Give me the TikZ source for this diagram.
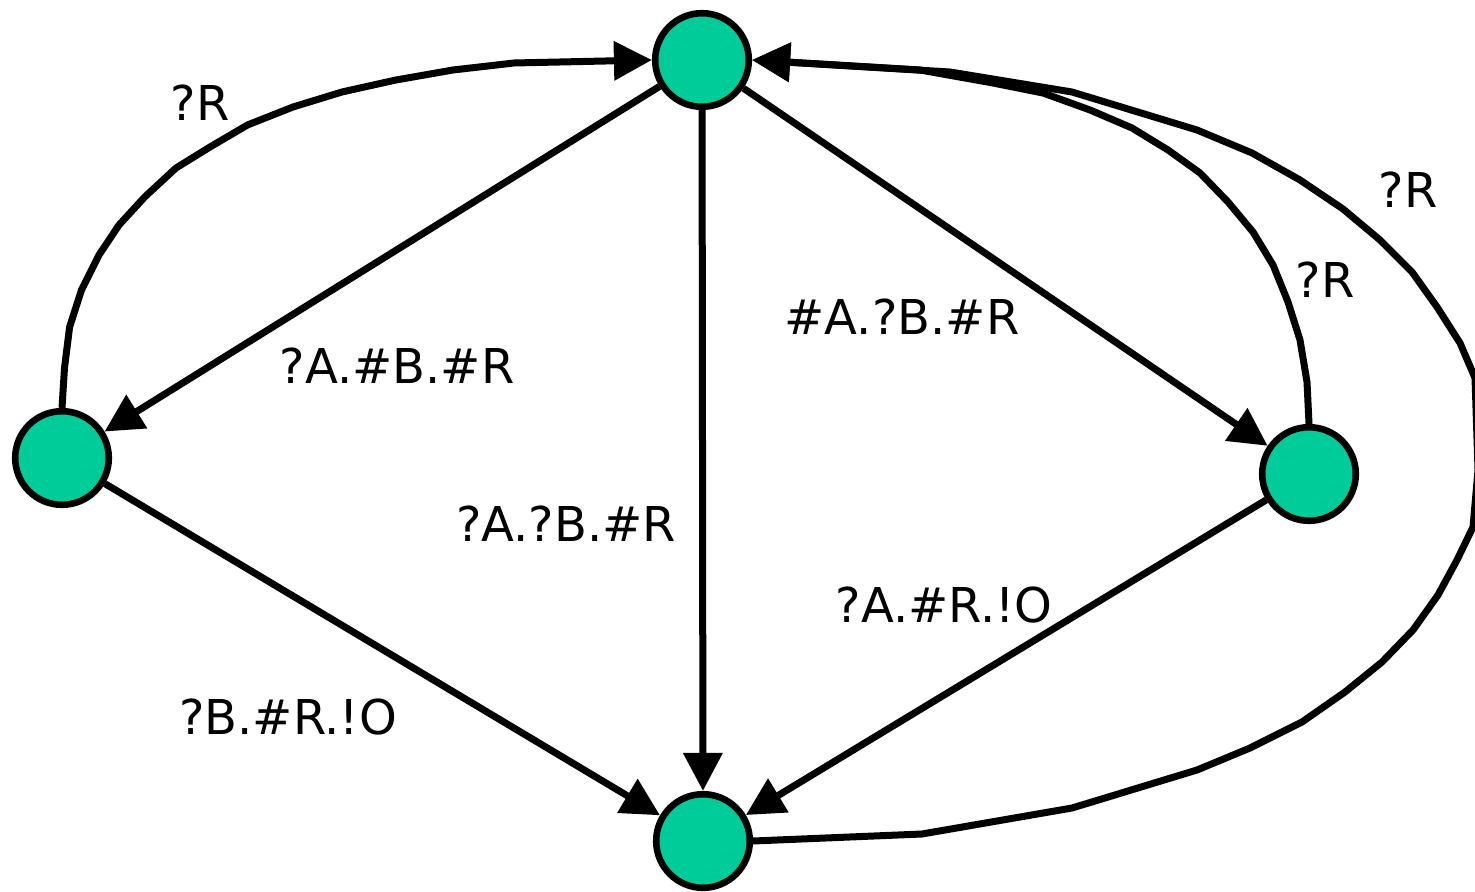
\documentclass[tikz,border=0pt]{standalone}
\usepackage{fontspec}
\setmainfont{DejaVu Sans}
\usetikzlibrary{arrows.meta}
\definecolor{stgreen}{HTML}{00CC99}
\begin{document}
\begin{tikzpicture}[x=0.5pt,y=-0.5pt,
  state/.style={circle,draw=black,fill=stgreen,line width=3.3pt,minimum size=46.8pt,inner sep=0pt},
  edge/.style={line width=3.5pt,line join=round,-{Triangle[length=19pt,width=19pt]}},
  lbl/.style={font=\fontsize{24}{28}\selectfont,inner sep=0pt}]
\useasboundingbox (0,0) rectangle (1475,892);
\node[state] (t) at (702,60) {};
\node[state] (l) at (62,458) {};
\node[state] (r) at (1309,474) {};
\node[state] (b) at (703,841) {};
% straight edges
\draw[edge] (t) -- (l);
\draw[edge] (t) -- (b);
\draw[edge] (t) -- (r);
\draw[edge] (l) -- (b);
\draw[edge] (r) -- (b);
% curved edges (polylines, as in the reference)
\draw[edge] (l.north) -- (64.5,368) -- (69.6,327) -- (81.5,290) -- (99,255) -- (119,225) -- (144.7,197) -- (176,168) -- (210,147) -- (247.5,125) -- (293,107) -- (342,92) -- (396,80) -- (453,70) -- (514,63) -- (t.west);
\draw[edge] (r.north) -- (1307,382) -- (1300,340) -- (1288,302) -- (1273,265) -- (1253,232) -- (1228,202) -- (1200,173) -- (1168,150) -- (1132,128) -- (1090,110) -- (1043,93) -- (993,83) -- (920,70) -- (t.east);
\draw[edge] (b.east) -- (922,834) -- (1072,808) -- (1197,770) -- (1250,748) -- (1302,722) -- (1345,692) -- (1382,662) -- (1413,630) -- (1438,595) -- (1457,560) -- (1473,527) -- (1478,470) -- (1475,378) -- (1460,343) -- (1437,307) -- (1412,272) -- (1380,240) -- (1343,209) -- (1300,180) -- (1252,153) -- (1197,130) -- (1072,92) -- (950,72) -- (t.east);
% labels
\node[lbl] (l1) at (200,103) {?R};
\node[lbl] (l2) at (397,366) {?A.\#B.\#R};
\node[lbl] (l3) at (566,524) {?A.?B.\#R};
\node[lbl] (l4) at (902,317) {\#A.?B.\#R};
\node[lbl] (l5) at (1325,280) {?R};
\node[lbl] (l6) at (1408,190) {?R};
\node[lbl] (l7) at (944,605) {?A.\#R.!O};
\node[lbl] (l8) at (288,717) {?B.\#R.!O};
\end{tikzpicture}
\end{document}
